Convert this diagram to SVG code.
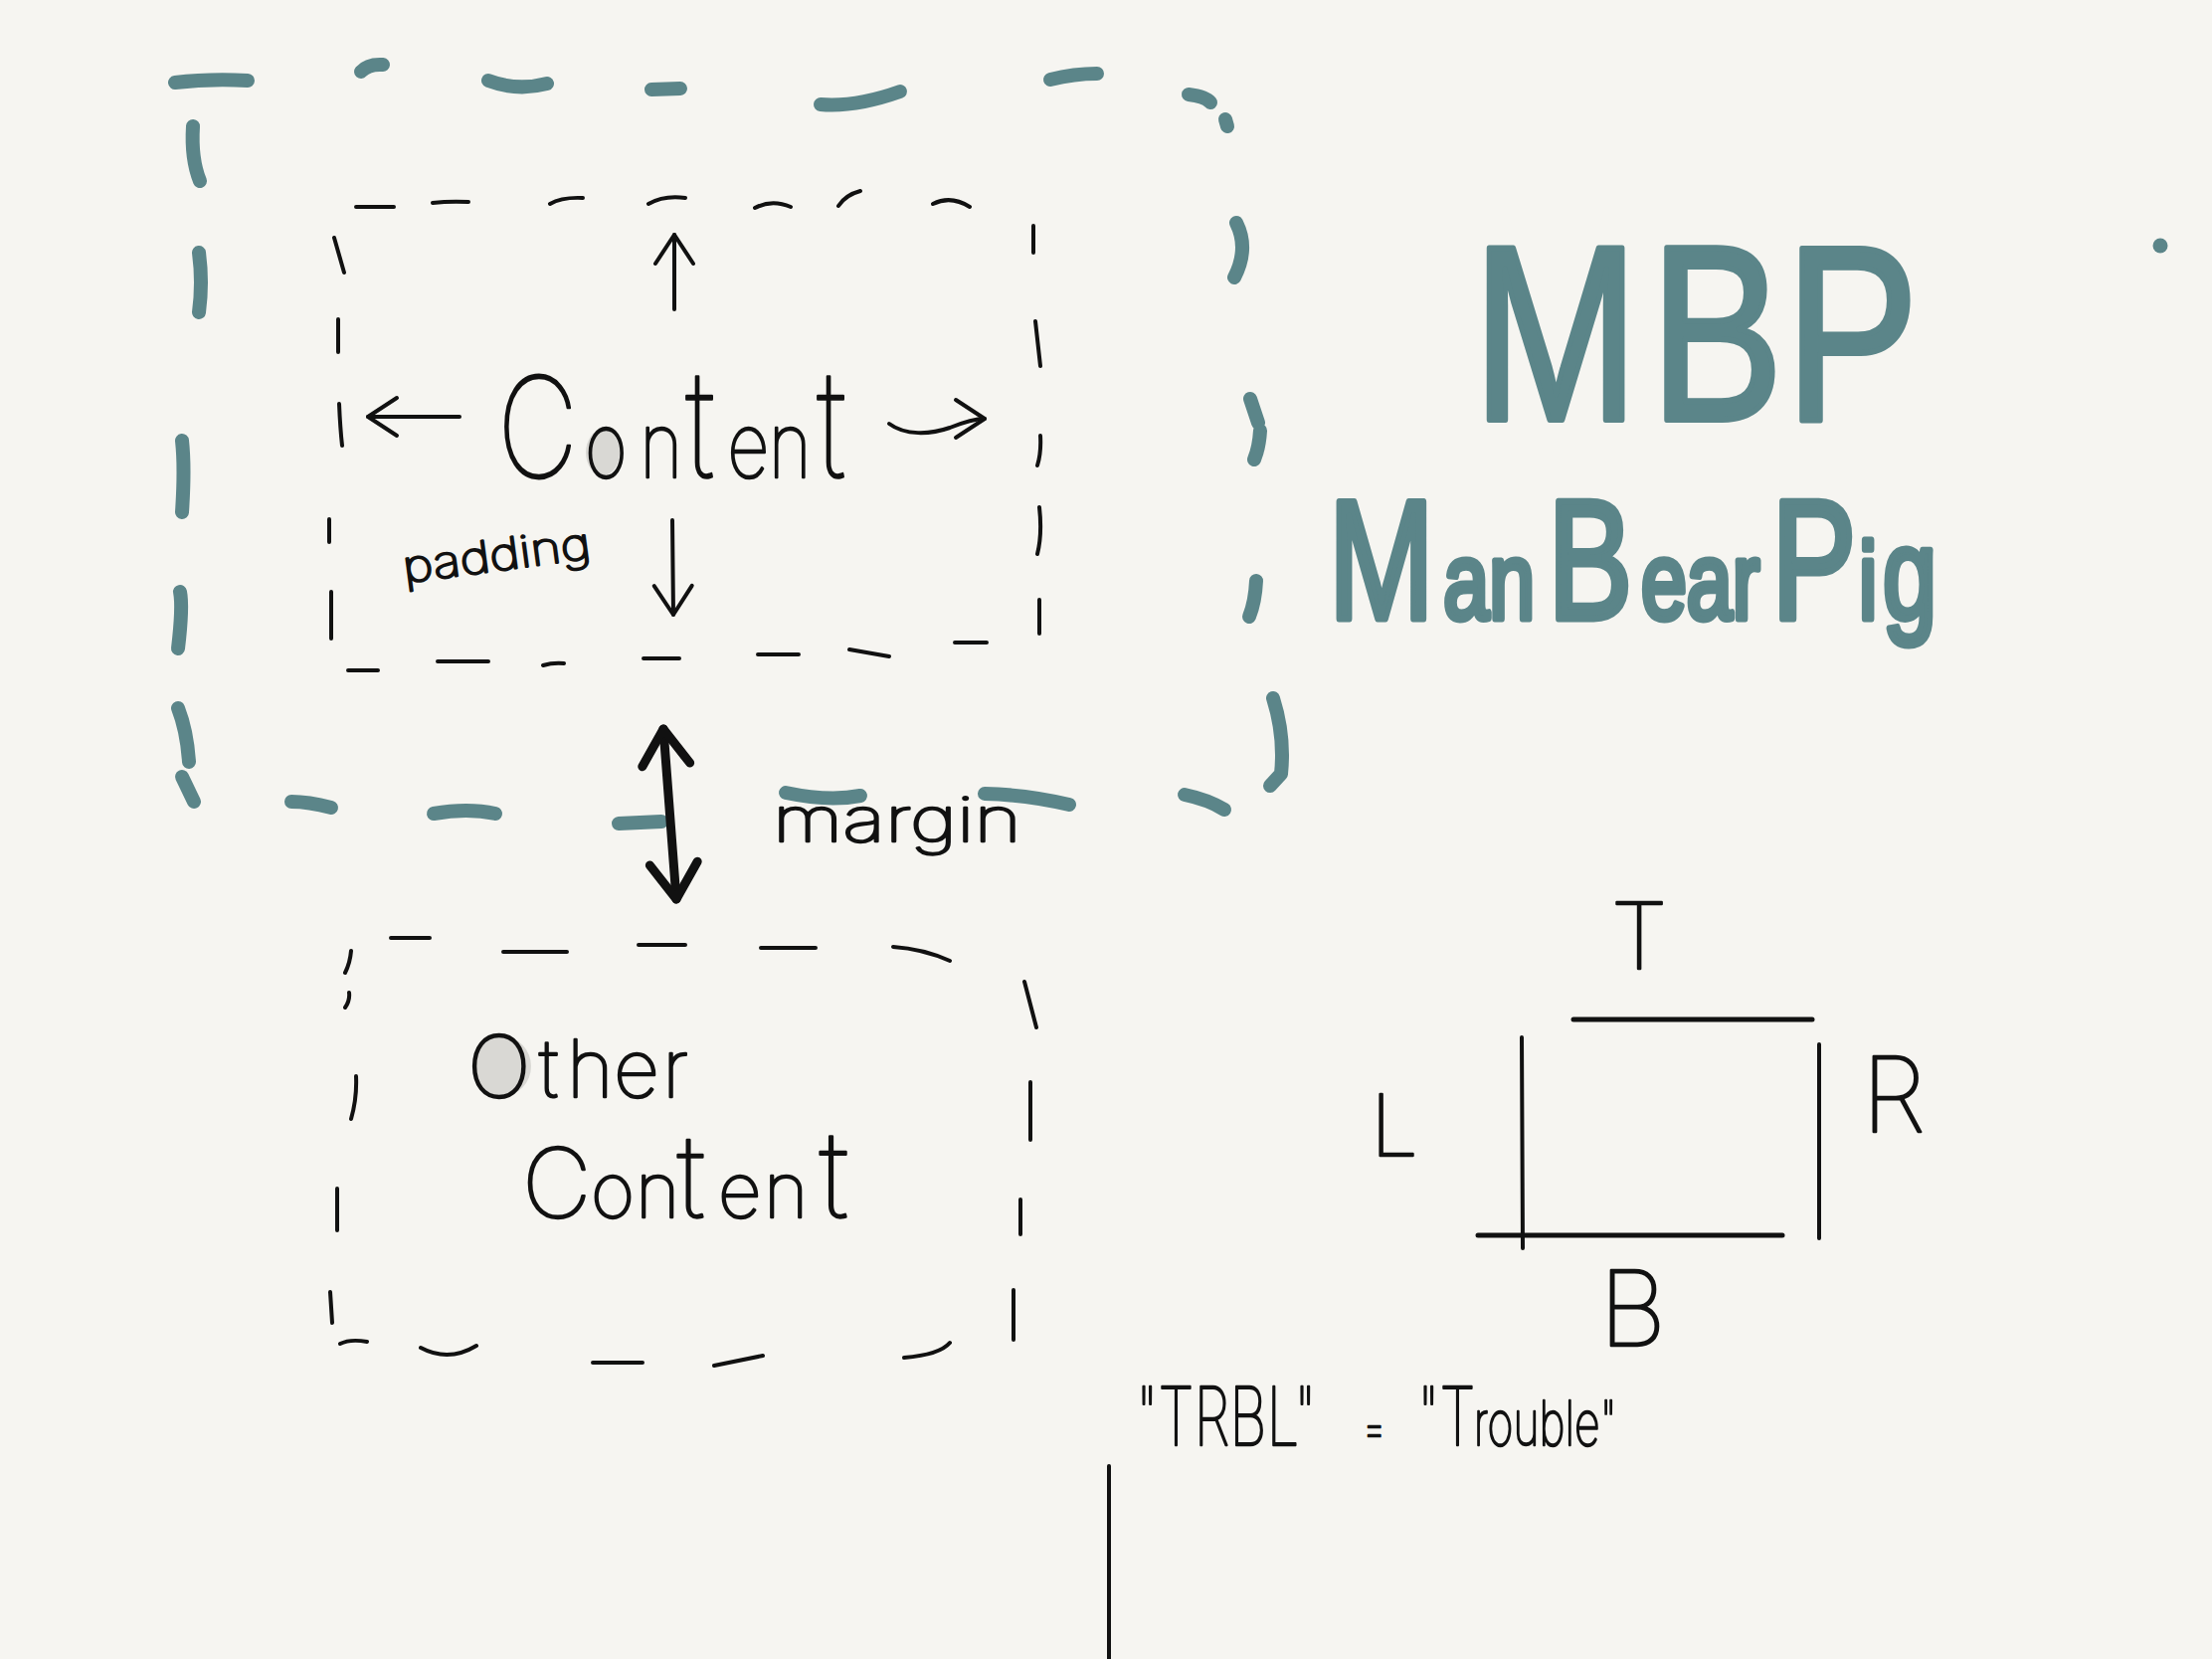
<svg xmlns="http://www.w3.org/2000/svg" width="2224" height="1668" viewBox="0 0 2224 1668">
<style>
.bg{fill:#f6f5f1}
.td{fill:none;stroke:#5b8589;stroke-width:14;stroke-linecap:round;stroke-linejoin:round}
.bd{fill:none;stroke:#111;stroke-width:4;stroke-linecap:round;stroke-linejoin:round}
.ln{fill:none;stroke:#111;stroke-width:5;stroke-linecap:round}
.ar{fill:none;stroke:#111;stroke-width:4;stroke-linecap:round;stroke-linejoin:round}
.arb{fill:none;stroke:#111;stroke-width:9;stroke-linecap:round;stroke-linejoin:round}
.hw{font-family:Inter,Lato,"Open Sans","DejaVu Sans",sans-serif;font-weight:100;fill:#111;stroke:#111;stroke-width:2.5;stroke-linejoin:round}
.tl{font-family:"Liberation Sans",Arial,sans-serif;fill:#5b8589;stroke:#5b8589;stroke-width:6;stroke-linejoin:round}
.grey{fill:#d9d8d4}
</style>
<defs>
<marker id="thin-head" markerUnits="userSpaceOnUse" markerWidth="40" markerHeight="44" viewBox="0 0 40 44" refX="32" refY="22" orient="auto-start-reverse" overflow="visible">
<path d="M3,3 L32,22 L3,41" class="ar"/>
</marker>
<marker id="bold-head" markerUnits="userSpaceOnUse" markerWidth="50" markerHeight="56" viewBox="0 0 50 56" refX="40" refY="28" orient="auto-start-reverse" overflow="visible">
<path d="M4,4 L40,28 L4,52" class="arb"/>
</marker>
</defs>
<rect class="bg" x="0" y="0" width="2224" height="1668"/>

<g id="margin-box">
<path class="td" d="M176,83 Q210,79 249,81"/>
<path class="td" d="M363,72 Q370,64 385,65"/>
<path class="td" d="M491,81 Q520,92 550,84"/>
<path class="td" d="M655,90 L684,89"/>
<path class="td" d="M825,105 Q860,108 905,92"/>
<path class="td" d="M1056,80 Q1080,74 1103,74"/>
<path class="td" d="M1195,95 Q1212,97 1217,103"/>
<path class="td" d="M1232,120 L1234,127"/>
<path class="td" d="M194,127 Q192,160 201,182"/>
<path class="td" d="M200,254 Q204,284 200,314"/>
<path class="td" d="M183,443 Q186,470 183,515"/>
<path class="td" d="M181,595 Q184,610 179,652"/>
<path class="td" d="M179,712 Q188,735 190,766"/>
<path class="td" d="M183,781 L195,806"/>
<path class="td" d="M293,806 Q310,806 333,812"/>
<path class="td" d="M436,818 Q470,812 498,818"/>
<path class="td" d="M622,828 L665,826"/>
<path class="td" d="M790,797 Q833,806 865,800"/>
<path class="td" d="M990,798 Q1033,799 1075,809"/>
<path class="td" d="M1191,799 Q1215,804 1231,814"/>
<path class="td" d="M1243,224 Q1256,250 1241,279"/>
<path class="td" d="M1257,401 L1265,425 M1267,433 Q1266,450 1261,462"/>
<path class="td" d="M1263,584 Q1262,605 1256,620"/>
<path class="td" d="M1280,702 Q1292,740 1288,778 L1277,790"/>
</g>

<g id="content-box">
<path class="bd" d="M358,208 L396,208 M435,204 Q452,202 471,203 M553,205 Q565,198 586,199 M652,205 Q668,196 689,199 M759,209 Q776,200 795,208 M843,207 Q850,196 865,192 M938,205 Q956,196 975,208"/>
<path class="bd" d="M336,239 L346,274 M340,321 L340,354 M341,406 Q342,430 344,448 M331,522 L331,545 M333,595 L333,642"/>
<path class="bd" d="M350,674 L380,674 M440,665 L491,665 M546,669 Q556,666 567,667 M647,662 L683,662 M762,658 L803,658 M854,653 L894,660 M960,646 L992,646"/>
<path class="bd" d="M1039,227 L1039,254 M1041,323 L1046,368 M1046,438 Q1047,455 1043,468 M1045,510 Q1048,537 1043,557 M1045,603 L1045,637"/>
<ellipse class="grey" cx="606" cy="455" rx="17" ry="23"/>
<text class="hw" transform="scale(0.8,1)" y="480"><tspan x="625" font-size="140">C</tspan><tspan x="735" font-size="92">o</tspan><tspan x="804" font-size="92">n</tspan><tspan x="862" font-size="150">t</tspan><tspan x="914" font-size="92">e</tspan><tspan x="966" font-size="92">n</tspan><tspan x="1027" font-size="150">t</tspan></text>
<text class="hw" x="407" y="586" font-size="44" textLength="190" lengthAdjust="spacingAndGlyphs" transform="rotate(-7.5 407 586)">padding</text>
</g>

<g id="other-content-box">
<path class="bd" d="M393,943 L432,943 M506,957 L570,957 M642,950 L689,950 M765,953 L820,953 M898,952 Q928,954 955,966"/>
<path class="bd" d="M353,956 Q352,968 347,978 M351,998 Q352,1006 347,1013 M358,1082 Q359,1104 353,1125 M339,1195 L339,1237 M332,1299 L334,1330"/>
<path class="bd" d="M342,1351 Q352,1346 369,1349 M423,1355 Q451,1370 479,1353 M596,1370 L646,1370 M718,1373 L767,1363 M909,1365 Q945,1362 955,1350"/>
<path class="bd" d="M1030,987 L1042,1033 M1036,1088 L1036,1146 M1026,1206 L1026,1241 M1019,1297 L1019,1347"/>
<ellipse class="grey" cx="505" cy="1072" rx="29" ry="30"/>
<text class="hw" y="1103"><tspan x="470" font-size="85">O</tspan><tspan x="542" font-size="80">t</tspan><tspan x="570" font-size="80">h</tspan><tspan x="617" font-size="80">e</tspan><tspan x="666" font-size="80">r</tspan></text>
<text class="hw" y="1224"><tspan x="525" font-size="96">C</tspan><tspan x="594" font-size="76">o</tspan><tspan x="639" font-size="76">n</tspan><tspan x="681" font-size="115">t</tspan><tspan x="722" font-size="76">e</tspan><tspan x="768" font-size="76">n</tspan><tspan x="824" font-size="120">t</tspan></text>
</g>

<g id="margin-label">
<text class="hw" x="777" y="846" font-size="62" textLength="250" lengthAdjust="spacingAndGlyphs">margin</text>
</g>

<g id="mbp-title">
<text class="tl" transform="scale(0.8,1)" y="422" font-size="250"><tspan x="1851">M</tspan><tspan x="2074">B</tspan><tspan x="2244">P</tspan></text>
<text class="tl" transform="scale(0.75,1)" y="622" style="stroke-width:7"><tspan x="1781" font-size="170">M</tspan><tspan x="1935" font-size="110">an</tspan><tspan x="2075" font-size="170">B</tspan><tspan x="2200" font-size="110">ear</tspan><tspan x="2375" font-size="170">P</tspan><tspan x="2492" font-size="110">i</tspan><tspan x="2524" font-size="130">g</tspan></text>
<circle cx="2172" cy="247" r="7.5" fill="#5b8589"/>
</g>

<g id="trbl-diagram">
<path class="ln" d="M1582,1025 L1822,1025"/>
<path class="ln" style="stroke-width:4" d="M1530,1043 L1531,1255"/>
<path class="ln" d="M1486,1242 L1792,1242"/>
<path class="ln" style="stroke-width:4" d="M1829,1050 L1829,1245"/>
<text class="hw" x="1648" y="974" font-size="92" text-anchor="middle">T</text>
<text class="hw" x="1378" y="1162" font-size="85">L</text>
<text class="hw" x="1872" y="1138" font-size="104">R</text>
<text class="hw" x="1608" y="1353" font-size="105">B</text>
</g>

<g id="trbl-caption">
<text class="hw" transform="scale(0.72,1)" y="1453"><tspan x="1586" font-size="81">"TRBL" </tspan><tspan x="1903" font-size="50">= </tspan><tspan x="1979" font-size="81">"T</tspan><tspan x="2058" font-size="62">rouble"</tspan></text>
</g>

<g id="connectors">
<path class="ar" d="M678,311 L678,236" marker-end="url(#thin-head)"/>
<path class="ar" d="M676,523 L677,618" marker-end="url(#thin-head)"/>
<path class="ar" d="M462,419 L370,419" marker-end="url(#thin-head)"/>
<path class="ar" d="M894,426 C910,438 935,437 955,430 C970,424 980,421 990,421" marker-end="url(#thin-head)"/>
<path class="arb" d="M667,733 L680,904" marker-start="url(#bold-head)" marker-end="url(#bold-head)"/>
<path class="ln" style="stroke-width:4" d="M1115,1474 L1115,1668"/>
</g>
</svg>
